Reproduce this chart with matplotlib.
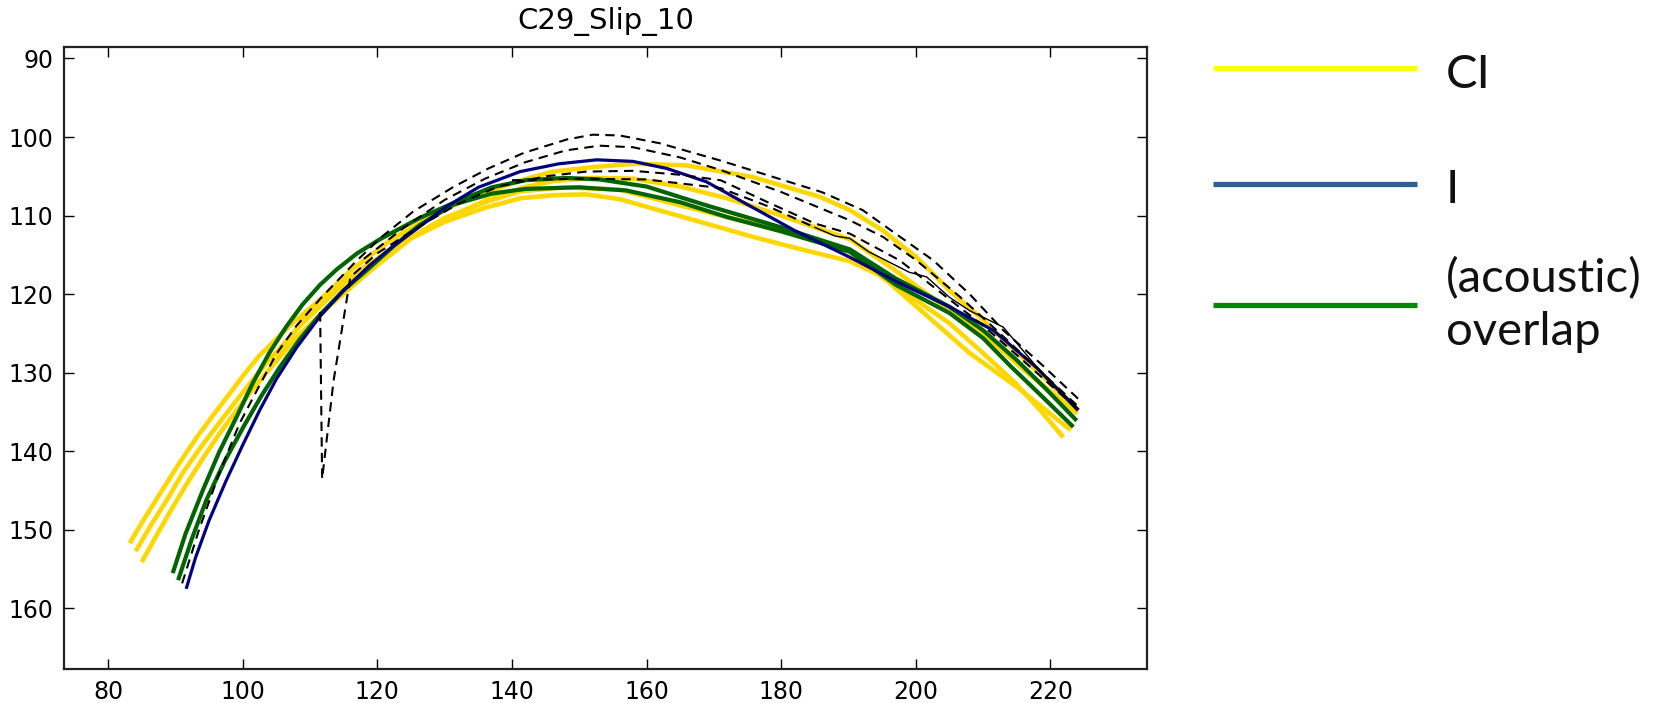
import matplotlib
matplotlib.use("Agg")
import matplotlib.pyplot as plt
from matplotlib.lines import Line2D

TITLE = "C29_Slip_10"
XTICKS = [80, 100, 120, 140, 160, 180, 200, 220]
YTICKS = [90, 100, 110, 120, 130, 140, 150, 160]
LEGEND_LABELS = ["CI", "I", "(acoustic)", "overlap"]

# yellow contours (x, y)
yellow_1 = [(83.2, 151.7), (85.5, 148.4), (87.7, 145.4), (90.5, 141.6), (93.1, 138.3), (95.6, 135.4),
            (98.1, 132.6), (100.3, 130.1), (102.5, 127.8), (107, 124.0), (112, 120.3), (118, 116.6),
            (124, 113.3), (130, 110.8), (136, 109.0), (141.2, 107.8), (146.1, 107.4), (151, 107.3),
            (156, 107.9), (165.9, 110.3), (175.8, 112.7), (183, 114.3), (190.2, 115.8), (195.1, 117.8),
            (200.1, 120.8), (205, 123.7), (210, 127.5), (214.9, 131.4), (218.5, 134.8), (221.9, 138.2)]
yellow_2 = [(84.1, 152.7), (86.3, 149.5), (88.5, 146.5), (91.2, 142.6), (94, 139.2), (96.5, 136.4),
            (99, 133.6), (101.5, 130.9), (104, 128.3), (109, 123.6), (115, 118.7), (122, 114.2),
            (130, 110.3), (136, 108.3), (141.2, 106.9), (148, 106.4), (156, 106.7), (165.9, 108.9),
            (175.8, 111.0), (183, 112.7), (190.2, 114.6), (196, 118.5), (202, 123.0), (208, 127.5),
            (215, 131.8), (223.0, 137.3)]
yellow_3 = [(85.0, 154.1), (87, 151.0), (89, 148.0), (91.5, 144.4), (94, 141.0), (96.5, 137.8), (99, 134.9),
            (101.5, 132.1), (104, 129.5), (108, 125.5), (113, 121.4), (119, 117.0), (125, 112.9),
            (131.2, 110.0), (136, 108.1), (141.8, 106.4), (146.1, 105.6), (152, 105.2), (158, 105.3),
            (165, 106.3), (172, 107.8), (180, 110.0), (186, 111.8), (190.2, 113.0), (197, 117.0),
            (204, 121.5), (210, 125.0), (216, 129.6), (224, 135.2)]
yellow_4 = [(105, 128.0), (110, 122.0), (116, 117.0), (122, 113.1), (128, 110.1), (134, 107.6), (141.8, 105.4),
            (146.1, 104.4), (152.4, 103.8), (158, 103.4), (165.9, 103.6), (175.8, 105.1), (185.7, 107.6),
            (190.2, 109.3), (195.1, 111.9), (200.1, 115.3), (205, 119.5), (210, 123.3), (214, 126.6),
            (219, 130.6), (224, 134.7)]

# green contours
green_1 = [(89.6, 155.5), (91.5, 150.5), (94.1, 144.9), (96.5, 140.1), (99.1, 135.6), (101.5, 131.3),
           (104, 127.4), (106.5, 124.1), (108.9, 121.3), (111.5, 118.8), (113.9, 116.9), (117, 114.8),
           (120.4, 113.0), (126.3, 110.3), (131.3, 108.4), (137, 106.4), (142, 105.5), (148, 105.2),
           (153, 105.4), (160, 106.3), (168.9, 108.7), (180, 111.5), (190.2, 114.3), (197, 118.0),
           (205, 121.6), (210, 124.6), (215, 128.4), (219.5, 132.2), (223.9, 136.1)]
green_2 = [(90.4, 156.4), (92.5, 151.0), (94.6, 146.2), (97.3, 141.3), (100.1, 136.9), (102.8, 132.9),
           (105.5, 129.3), (108.5, 125.7), (111.5, 122.6), (115, 119.5), (118.9, 116.6), (122.5, 113.8),
           (126.3, 111.2), (131.3, 108.6), (137, 107.2), (142, 106.6), (150, 106.4), (157, 106.8),
           (165, 108.3), (172, 110.2), (180, 112.0), (190.2, 114.6), (197, 118.8), (205, 122.4),
           (210, 125.6), (214, 129.1), (218.5, 132.8), (223.4, 136.9)]

# blue contour
blue_1 = [(91.6, 157.5), (93, 153.5), (95, 148.8), (97.5, 143.8), (100, 139.2), (102.5, 134.8), (105, 130.8),
          (108, 126.8), (111.5, 122.8), (115, 119.5), (118.9, 116.3), (122.5, 113.8), (126.3, 111.4),
          (130, 109.0), (135, 106.4), (141.2, 104.4), (147, 103.4), (152.6, 102.9), (158, 103.1),
          (163, 104.0), (168.9, 105.7), (175, 108.6), (182, 111.9), (190.2, 115.3), (197.6, 118.6),
          (205, 121.6), (211.5, 124.6), (218, 129.4), (224.1, 134.8)]

# black dashed contours
dashed_1 = [(91.0, 156.8), (93.5, 150.0), (96.6, 142.6), (99.5, 136.5), (102.5, 131.6), (105, 127.6),
            (108, 124.0), (111.5, 120.6), (116.4, 116.2), (120.5, 112.8), (125.3, 109.5), (131.2, 106.4),
            (136.5, 104.0), (141.8, 102.0), (148.2, 100.3), (152, 99.7), (156, 99.8), (162, 100.8),
            (171, 103.0), (180, 105.4), (186, 107.0), (192.1, 109.3), (197, 112.3), (202.6, 115.7),
            (208, 120.0), (213, 124.6), (218.5, 128.8), (224.1, 133.3)]
dashed_2 = [(118, 115.5), (124, 111.5), (130, 108.0), (136, 105.3), (142, 103.2), (148, 101.7), (153, 101.1),
            (158, 101.3), (165, 102.6), (171, 104.2), (180, 107.0), (190.2, 110.6), (195.1, 112.7),
            (200.1, 115.7), (206.5, 120.3), (211.5, 124.2), (216, 127.8), (224, 134.2)]
dashed_3 = [(111.5, 122.3), (111.8, 143.5), (113.5, 131.0), (116, 117.8), (120, 114.8), (126, 111.5),
            (132, 108.5), (138, 106.3), (145, 105.0), (151, 104.4), (158, 104.3), (165, 104.8),
            (171, 105.5), (178, 108.3), (185, 111.0), (190.2, 112.3), (197.6, 115.7), (204, 120.0),
            (210, 124.0), (216, 128.5), (224, 134.6)]
dashed_4 = [(140, 105.5), (150, 105.3), (160, 105.4), (171, 106.5), (178, 108.8), (185, 111.5)]
thin_black = [(185, 111.5), (188, 112.6), (190.2, 112.9), (193, 114.6), (196, 115.9), (199, 117.2),
              (201.6, 117.8), (205, 120.4), (208, 122.1), (213, 124.2), (218, 129.3), (224.2, 134.6)]

YELLOW = [yellow_1, yellow_2, yellow_3, yellow_4]
GREEN = [green_1, green_2]
BLUE = [blue_1]
DASHED = [dashed_1, dashed_2, dashed_3, dashed_4]


def xy(pts):
    return [p[0] for p in pts], [p[1] for p in pts]


fig = plt.figure(figsize=(16.54, 7.03), dpi=100)
ax = fig.add_axes([0.0389, 0.0484, 0.6544, 0.8852])

for c in YELLOW:
    ax.plot(*xy(c), color="#FFD700", lw=3.3, solid_capstyle="butt", solid_joinstyle="round")
for c in GREEN:
    ax.plot(*xy(c), color="#006400", lw=3.0, solid_capstyle="butt", solid_joinstyle="round")
for c in BLUE:
    ax.plot(*xy(c), color="#000080", lw=2.3, solid_capstyle="butt", solid_joinstyle="round")
for c in DASHED:
    ax.plot(*xy(c), color="black", lw=1.5, linestyle=(0, (4.5, 3.0)))
ax.plot(*xy(thin_black), color="black", lw=1.0)

ax.set_xlim(73.5, 234.3)
ax.set_ylim(167.7, 88.5)
ax.set_xticks(XTICKS)
ax.set_yticks(YTICKS)
ax.tick_params(direction="in", length=7, width=1, top=True, right=True, labelsize=17, pad=8, colors="black")
for s in ax.spines.values():
    s.set_linewidth(1.6)
    s.set_color("#222222")
ax.set_title(TITLE, fontsize=21, pad=13)

# hand-drawn legend on the right
H = 703.0
leg_colors = ["#FFFF00", "#2E6096", "#008800"]
leg_y = [68.3, 184.3, 305.0]
for col, yy in zip(leg_colors, leg_y):
    fig.add_artist(Line2D([1213 / 1654, 1417 / 1654], [1 - yy / H, 1 - yy / H], color=col, lw=3.8,
                          transform=fig.transFigure, solid_capstyle="butt"))
txt_y = [88.3, 203.3, 291.7, 345.0]
for lab, yy in zip(LEGEND_LABELS, txt_y):
    fig.text(1446 / 1654, 1 - yy / H, lab, fontsize=34, family="Lato", va="baseline", ha="left",
             color="#111111")

fig.savefig("out.png", dpi=100)
